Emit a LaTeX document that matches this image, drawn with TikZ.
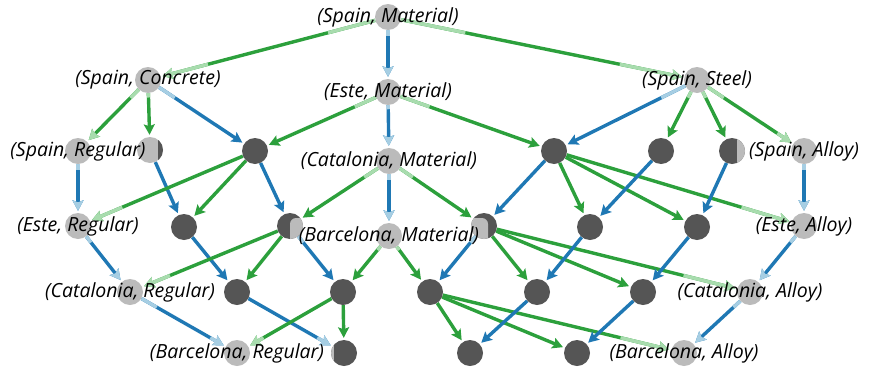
\documentclass[tikz,border=0pt]{standalone}
\usepackage{fontspec}
\setmainfont{Open Sans}
\usetikzlibrary{arrows.meta,calc}
\pgfdeclarelayer{bg}
\pgfsetlayers{bg,main}
\definecolor{gdark}{HTML}{2CA03C}
\definecolor{glight}{HTML}{A8DCAE}
\definecolor{bdark}{HTML}{1F78B4}
\definecolor{blight}{HTML}{A6CEE3}
\definecolor{ndark}{HTML}{555555}
\definecolor{nlight}{HTML}{BBBBBB}

\tikzset{
  pt/.style={circle, minimum size=26pt, inner sep=0pt, fill=#1},
  gnode/.style={pt=nlight},
  dnode/.style={pt=ndark},
  lbl/.style={font=\fontsize{19.5}{22}\selectfont\itshape, inner sep=0pt},
  conn/.style={line width=3.4pt, -{Stealth[length=10.5pt,width=11pt,inset=2pt]}, shorten >=2pt},
  seg/.style={line width=3.4pt},
}

% #1 dark colour, #2 light colour, #3 source, #4 target,
% #5: 0 plain, 1 light near source, 2 light near target, 3 both
\newcommand\cnx[5]{%
  \draw[conn, #1] (#3) -- (#4);
  \ifodd#5 \draw[seg, #2] (#3) -- ($(#3.center)!0.25!(#4.center)$);\fi
  \ifnum#5>1 \draw[conn, #2] ($(#3.center)!0.75!(#4.center)$) -- (#4);\fi
}
\newcommand\gcx[3]{\cnx{gdark}{glight}{#1}{#2}{#3}}
\newcommand\bcx[3]{\cnx{bdark}{blight}{#1}{#2}{#3}}

\begin{document}
\begin{tikzpicture}[x=1pt,y=-1pt]
\useasboundingbox (0,0) rectangle (872,367);

% level 0 and 1
\node[gnode] (SM) at (388,17) {};
\node[gnode] (SC) at (148,80) {};
\node[gnode] (EM) at (388,92) {};
\node[gnode] (SS) at (697,80) {};
% level 2
\node[gnode] (SR) at (78,151) {};
\node[gnode] (P1) at (150,150) {};
\node[dnode] (D1) at (255,151) {};
\node[gnode] (CM) at (389,161) {};
\node[dnode] (D2) at (554,151) {};
\node[dnode] (D3) at (661,151) {};
\node[dnode] (P4) at (732,151) {};
\node[gnode] (SA) at (804,151) {};
% level 3
\node[gnode] (ER) at (78,226) {};
\node[dnode] (D4) at (184,227) {};
\node[dnode] (P2) at (290,226) {};
\node[gnode] (BM) at (389,236) {};
\node[dnode] (P3) at (484,226) {};
\node[dnode] (D5) at (590,227) {};
\node[dnode] (D6) at (697,227) {};
\node[gnode] (EA) at (804,226) {};
% level 4
\node[gnode] (CR) at (130,292) {};
\node[dnode] (D7) at (237,292) {};
\node[dnode] (D8) at (343,292) {};
\node[dnode] (D9) at (430,292) {};
\node[dnode] (D10) at (537,292) {};
\node[dnode] (D11) at (643,292) {};
\node[gnode] (CA) at (750,292) {};
% level 5
\node[gnode] (BR) at (237,353) {};
\node[dnode] (D12) at (344,353) {};
\node[dnode] (D13) at (470,353) {};
\node[dnode] (D14) at (577,353) {};
\node[gnode] (BA) at (684,353) {};

% two-tone nodes
\begin{scope}
  \clip (P1.center) circle (13pt);
  \fill[ndark] ($(P1.center)+(8,-14)$) rectangle ($(P1.center)+(14,14)$);
\end{scope}
\begin{scope}
  \clip (P4.center) circle (13pt);
  \fill[nlight] ($(P4.center)+(5,-14)$) rectangle ($(P4.center)+(14,14)$);
\end{scope}
\begin{scope}
  \clip (P2.center) circle (13pt);
  \fill[nlight, rounded corners=6pt] ($(P2.center)+(0,-8)$) rectangle ($(P2.center)+(20,20)$);
\end{scope}
\begin{scope}
  \clip (P3.center) circle (13pt);
  \fill[nlight, rounded corners=6pt] ($(P3.center)+(-20,-8)$) rectangle ($(P3.center)+(4,20)$);
\end{scope}
\begin{scope}
  \clip (D12.center) circle (13pt);
  \fill[nlight] ($(D12.center)+(-14,-14)$) rectangle ($(D12.center)+(-10.5,14)$);
\end{scope}

% labels
\node[lbl] (SM-t) at (SM) {(Spain, Material)};
\node[lbl] (SC-t) at (SC) {(Spain, Concrete)};
\node[lbl] (EM-t) at (EM) {(Este, Material)};
\node[lbl] (SS-t) at (SS) {(Spain, Steel)};
\node[lbl] (SR-t) at (SR) {(Spain, Regular)};
\node[lbl] (CM-t) at (CM) {(Catalonia, Material)};
\node[lbl] (SA-t) at (SA) {(Spain, Alloy)};
\node[lbl] (ER-t) at (ER) {(Este, Regular)};
\node[lbl] (BM-t) at (BM) {(Barcelona, Material)};
\node[lbl] (EA-t) at (EA) {(Este, Alloy)};
\node[lbl] (CR-t) at (CR) {(Catalonia, Regular)};
\node[lbl] (CA-t) at (CA) {(Catalonia, Alloy)};
\node[lbl] (BR-t) at (BR) {(Barcelona, Regular)};
\node[lbl] (BA-t) at (BA) {(Barcelona, Alloy)};

\begin{pgfonlayer}{bg}
\gcx{SM}{SC}{3}
\bcx{SM}{EM}{3}
\gcx{SM}{SS}{3}
\gcx{SC}{SR}{3}
\gcx{SC}{P1}{1}
\bcx{SC}{D1}{1}
\gcx{EM}{D1}{1}
\bcx{EM}{CM}{3}
\gcx{EM}{D2}{1}
\bcx{SS}{D2}{1}
\gcx{SS}{D3}{1}
\gcx{SS}{P4}{1}
\gcx{SS}{SA}{3}
\bcx{SR}{ER}{3}
\bcx{P1}{D4}{0}
\gcx{D1}{ER}{2}
\gcx{D1}{D4}{0}
\bcx{D1}{P2}{0}
\gcx{CM}{P2}{1}
\bcx{CM}{BM}{3}
\gcx{CM}{P3}{1}
\bcx{D2}{P3}{0}
\gcx{D2}{D5}{0}
\gcx{D2}{D6}{0}
\gcx{D2}{EA}{2}
\bcx{D3}{D5}{0}
\bcx{P4}{D6}{0}
\bcx{SA}{EA}{3}
\bcx{ER}{CR}{3}
\bcx{D4}{D7}{0}
\gcx{P2}{CR}{2}
\gcx{P2}{D7}{0}
\bcx{P2}{D8}{1}
\gcx{BM}{D8}{1}
\gcx{BM}{D9}{1}
\bcx{P3}{D9}{1}
\gcx{P3}{D10}{0}
\gcx{P3}{D11}{0}
\gcx{P3}{CA}{2}
\bcx{D5}{D10}{0}
\bcx{D6}{D11}{0}
\bcx{EA}{CA}{3}
\bcx{CR}{BR}{3}
\bcx{D7}{D12}{2}
\gcx{D8}{BR}{2}
\gcx{D8}{D12}{0}
\gcx{D9}{D13}{0}
\gcx{D9}{D14}{0}
\gcx{D9}{BA}{2}
\bcx{D10}{D13}{0}
\bcx{D11}{D14}{0}
\bcx{CA}{BA}{3}
\end{pgfonlayer}
\end{tikzpicture}
\end{document}
